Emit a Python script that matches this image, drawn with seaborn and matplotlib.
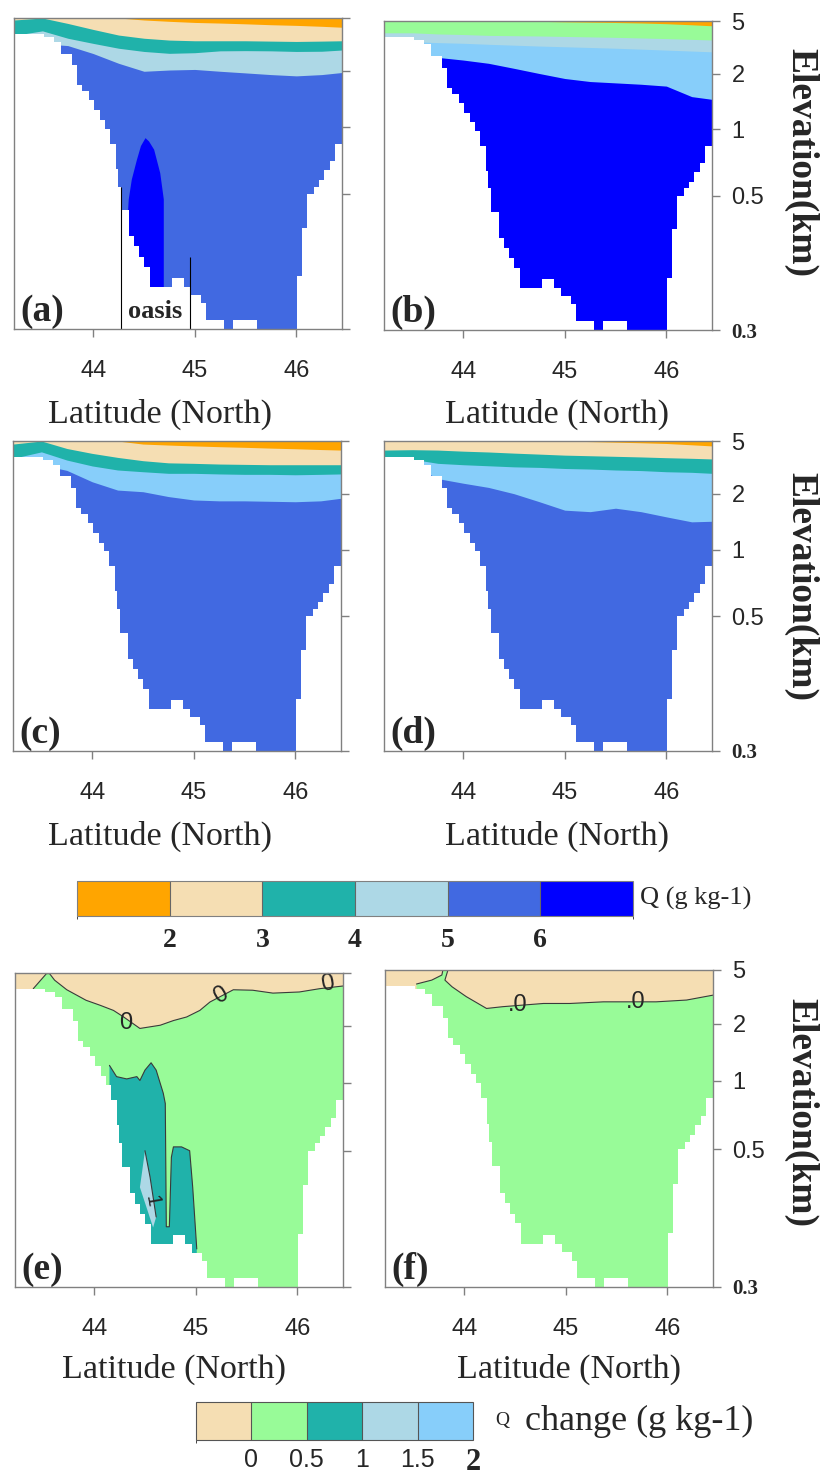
import numpy as np
import matplotlib
matplotlib.use("Agg")
import matplotlib.pyplot as plt
import seaborn as sns
from matplotlib.colors import ListedColormap, BoundaryNorm
from matplotlib.cm import ScalarMappable
from matplotlib.ticker import NullLocator

sns.set_style("white")
plt.rcParams['font.family'] = ['Liberation Sans', 'DejaVu Sans']
SERIF = ['Liberation Serif', 'DejaVu Serif']

# ---- data (latitude in deg N, elevation in km) ----
lat_nodes = [43.22, 43.5, 43.75, 44.0, 44.25, 44.5, 44.75, 45.0, 45.25, 45.5, 45.75, 46.0, 46.25, 46.45]
top_km = [5.0] * 14

a_orange = [5.0, 5.0, 5.0, 5.0, 5.0, 4.83, 4.72, 4.63, 4.58, 4.52, 4.45, 4.40, 4.33, 4.26]
a_wheat = [4.83, 5.0, 4.55, 4.10, 3.72, 3.52, 3.41, 3.37, 3.37, 3.37, 3.35, 3.33, 3.35, 3.37]
a_teal = [3.70, 4.0, 3.52, 3.22, 2.96, 2.80, 2.71, 2.74, 2.83, 2.84, 2.83, 2.80, 2.81, 2.87]
a_light = [3.2, 3.2, 3.1, 2.7, 2.28, 1.99, 2.03, 2.05, 1.99, 1.95, 1.91, 1.88, 1.91, 1.96]
oasis_lat = [44.33, 44.35, 44.38, 44.43, 44.47, 44.515, 44.55, 44.60, 44.66, 44.695, 44.695, 44.33]
oasis_km = [0.43, 0.49, 0.58, 0.71, 0.82, 0.89, 0.86, 0.79, 0.62, 0.49, 0.3, 0.3]
oasis_edge_lat = [44.272, 44.951]
oasis_edge_top = [0.54, 0.394]

b_orange = [5.0, 5.0, 5.0, 5.0, 5.0, 5.0, 4.97, 4.93, 4.90, 4.87, 4.83, 4.77, 4.68, 4.60]
b_green = [4.07, 4.07, 3.99, 3.95, 3.89, 3.87, 3.85, 3.82, 3.79, 3.76, 3.72, 3.68, 3.63, 3.59]
b_light = [3.48, 3.48, 3.43, 3.39, 3.33, 3.28, 3.23, 3.19, 3.15, 3.11, 3.06, 3.01, 2.96, 2.92]
b_sky = [2.7, 2.7, 2.65, 2.53, 2.39, 2.19, 2.0, 1.88, 1.81, 1.78, 1.75, 1.71, 1.50, 1.45]

c_orange = [5.0, 5.0, 5.0, 5.0, 5.0, 4.74, 4.66, 4.59, 4.53, 4.48, 4.42, 4.37, 4.31, 4.27]
c_wheat = [4.74, 5.0, 4.39, 4.03, 3.76, 3.55, 3.42, 3.39, 3.35, 3.33, 3.31, 3.31, 3.31, 3.31]
c_teal = [3.70, 4.14, 3.59, 3.24, 3.02, 2.93, 2.85, 2.85, 2.82, 2.80, 2.80, 2.78, 2.80, 2.82]
c_sky = [3.3, 3.3, 3.0, 2.46, 2.13, 2.07, 1.93, 1.85, 1.83, 1.83, 1.82, 1.81, 1.83, 1.89]

d_orange = [5.0, 5.0, 5.0, 5.0, 5.0, 5.0, 5.0, 5.0, 4.95, 4.90, 4.85, 4.79, 4.68, 4.59]
d_wheat = [4.27, 4.30, 4.27, 4.19, 4.13, 4.05, 3.98, 3.91, 3.87, 3.83, 3.79, 3.74, 3.70, 3.66]
d_teal = [3.75, 3.64, 3.39, 3.31, 3.25, 3.19, 3.16, 3.10, 3.07, 3.02, 2.99, 2.93, 2.90, 2.85]
d_sky = [3.3, 3.3, 2.6, 2.40, 2.23, 2.0, 1.81, 1.63, 1.60, 1.67, 1.60, 1.50, 1.41, 1.42]

e_zero_lat = [43.40, 43.53, 43.56, 43.61, 43.73, 43.92, 44.06, 44.19, 44.29, 44.45, 44.65,
              44.78, 44.91, 45.04, 45.14, 45.37, 45.56, 45.76, 46.02, 46.22, 46.45]
e_zero_km = [3.82, 4.95, 4.95, 4.42, 3.75, 3.13, 2.87, 2.63, 2.35, 1.95, 2.04,
             2.21, 2.35, 2.63, 3.04, 3.75, 3.72, 3.54, 3.61, 3.82, 4.0]
e_teal_lat = [44.15, 44.22, 44.32, 44.42, 44.45, 44.50, 44.56, 44.61, 44.68, 44.70, 44.71,
              44.74, 44.76, 44.78, 44.86, 44.94, 44.97, 45.01, 45.01, 44.15]
e_teal_km = [1.24, 1.08, 1.05, 1.08, 1.03, 1.17, 1.28, 1.17, 0.90, 0.81, 0.376,
             0.376, 0.488, 0.52, 0.52, 0.50, 0.436, 0.346, 0.3, 0.3]
e_sliver_lat = [44.50, 44.55, 44.61, 44.58, 44.45, 44.47]
e_sliver_km = [0.50, 0.453, 0.39, 0.375, 0.436, 0.46]

f_zero_lat = [43.53, 43.68, 43.78, 43.79, 43.84, 43.81, 43.88, 44.02, 44.22, 44.38,
              44.78, 45.04, 45.37, 45.89, 46.19, 46.45]
f_zero_km = [3.94, 4.21, 4.59, 5.0, 5.0, 4.21, 3.76, 3.18, 2.60, 2.68,
             2.83, 2.83, 2.91, 2.91, 3.0, 3.26]

terrain_edges = [43.22, 43.52, 43.61, 43.68, 43.79, 43.84, 43.89, 43.96, 44.01, 44.07, 44.12,
                 44.17, 44.22, 44.24, 44.27, 44.35, 44.40, 44.45, 44.50, 44.56, 44.61, 44.78,
                 44.89, 44.96, 45.06, 45.11, 45.29, 45.38, 45.61, 46.01, 46.06, 46.11, 46.17,
                 46.22, 46.27, 46.33, 46.38, 46.45]
terrain_top = [3.78, 3.62, 3.32, 2.70, 2.21, 1.68, 1.55, 1.39, 1.23, 1.09, 0.98, 0.84, 0.65,
               0.54, 0.47, 0.426, 0.41, 0.394, 0.38, 0.352, 0.352, 0.364, 0.352, 0.341, 0.331,
               0.31, 0.30, 0.31, 0.30, 0.366, 0.44, 0.50, 0.54, 0.58, 0.64, 0.70, 0.84]

lat_ticks = [44, 45, 46]
elev_ticks = [0.3, 0.5, 1, 2, 5]
elev_labels = ['0.3', '0.5', '1', '2', '5']
q_bounds = [1, 2, 3, 4, 5, 6, 7]
q_ticks = [2, 3, 4, 5, 6]
dq_bounds = [-0.5, 0, 0.5, 1, 1.5, 2]
dq_ticks = [0, 0.5, 1, 1.5, 2]
dq_labels = ['0', '0.5', '1', '1.5', '2']

ORANGE, WHEAT, TEAL = '#FFA500', '#F5DEB3', '#20B2AA'
LBLUE, SKY, ROYAL, BLUE, GREEN = '#ADD8E6', '#87CEFA', '#4169E1', '#0000FF', '#98FB98'
q_colors = [ORANGE, WHEAT, TEAL, LBLUE, ROYAL, BLUE]
dq_colors = [WHEAT, GREEN, TEAL, LBLUE, SKY]

# ---- vertical axis spacing (model levels, not uniform in km) ----
LOG_T = np.log(elev_ticks)
POS_T = np.array([0.0, 0.434, 0.650, 0.830, 1.0])
LO = (POS_T[1] - POS_T[0]) / (LOG_T[1] - LOG_T[0])
HI = (POS_T[-1] - POS_T[-2]) / (LOG_T[-1] - LOG_T[-2])


def to_pos(km):
    z = np.log(np.clip(np.asarray(km, dtype=float), 1e-6, None))
    p = np.interp(z, LOG_T, POS_T)
    p = np.where(z < LOG_T[0], POS_T[0] + (z - LOG_T[0]) * LO, p)
    p = np.where(z > LOG_T[-1], POS_T[-1] + (z - LOG_T[-1]) * HI, p)
    return p


def from_pos(p):
    p = np.asarray(p, dtype=float)
    z = np.interp(p, POS_T, LOG_T)
    z = np.where(p < POS_T[0], LOG_T[0] + (p - POS_T[0]) / LO, z)
    z = np.where(p > POS_T[-1], LOG_T[-1] + (p - POS_T[-1]) / HI, z)
    return np.exp(z)


W, H = 824, 1477
fig = plt.figure(figsize=(W / 100, H / 100), dpi=100)


def px_rect(x0, y0, x1, y1):
    return [x0 / W, 1 - y1 / H, (x1 - x0) / W, (y1 - y0) / H]


def ftext(x, y, s, **kw):
    fig.text(x / W, 1 - y / H, s, **kw)


def make_panel(box, letter, right_labels):
    ax = fig.add_axes(px_rect(*box))
    ax.set_yscale('function', functions=(to_pos, from_pos))
    ax.set_xlim(terrain_edges[0], terrain_edges[-1])
    ax.set_ylim(0.3, 5.0)
    ax.set_xticks(lat_ticks, labels=[str(t) for t in lat_ticks])
    ax.set_yticks(elev_ticks, labels=elev_labels if right_labels else [''] * 5)
    ax.yaxis.set_minor_locator(NullLocator())
    ax.xaxis.set_minor_locator(NullLocator())
    ax.tick_params(axis='x', bottom=True, top=False, direction='out', length=6, width=1,
                   color='gray', labelsize=17, pad=16)
    ax.tick_params(axis='y', left=False, right=True, labelleft=False, labelright=right_labels,
                   direction='out', length=6, width=1, color='gray', labelsize=17, pad=8)
    if right_labels:
        lb = ax.get_yticklabels()[0]
        lb.set_fontfamily(SERIF)
        lb.set_fontweight('bold')
        lb.set_fontsize(15)
    for sp in ax.spines.values():
        sp.set_color('gray')
        sp.set_linewidth(1)
        sp.set_zorder(6)
    ax.text(0.02, 0.025, f'({letter})', transform=ax.transAxes, fontsize=27,
            fontweight='bold', family=SERIF, zorder=7)
    return ax


def draw_layers(ax, tops, colors):
    for col, top in zip(colors, tops):
        ax.fill_between(lat_nodes, 0.3, top, color=col, lw=0, zorder=1)


def draw_terrain(ax):
    ax.fill_between(terrain_edges, 0.25, terrain_top + [terrain_top[-1]], step='post',
                    color='white', lw=0, zorder=3)


def contour_line(ax, x, y):
    sns.lineplot(x=x, y=y, sort=False, estimator=None, color='#3a3a3a', lw=0.8,
                 ax=ax, zorder=2)


boxes = {'a': (14, 18, 342, 329), 'b': (384, 21, 712, 330),
         'c': (13, 441, 341, 751), 'd': (384, 441, 712, 751),
         'e': (15, 973, 343, 1287), 'f': (385, 970, 713, 1287)}

# (a)
ax = make_panel(boxes['a'], 'a', False)
draw_layers(ax, [top_km, a_orange, a_wheat, a_teal, a_light], [ORANGE, WHEAT, TEAL, LBLUE, ROYAL])
ax.fill(oasis_lat, oasis_km, color=BLUE, lw=0, zorder=1.5)
draw_terrain(ax)
ax.vlines(oasis_edge_lat, 0.3, oasis_edge_top, color='black', lw=0.8, zorder=4)
ax.text(44.61, 0.313, 'oasis', ha='center', va='baseline', fontsize=19, fontweight='bold',
        family=SERIF, zorder=5)

# (b)
ax = make_panel(boxes['b'], 'b', True)
draw_layers(ax, [top_km, b_orange, b_green, b_light, b_sky], [ORANGE, GREEN, LBLUE, SKY, BLUE])
draw_terrain(ax)

# (c)
ax = make_panel(boxes['c'], 'c', False)
draw_layers(ax, [top_km, c_orange, c_wheat, c_teal, c_sky], [ORANGE, WHEAT, TEAL, SKY, ROYAL])
draw_terrain(ax)

# (d)
ax = make_panel(boxes['d'], 'd', True)
draw_layers(ax, [top_km, d_orange, d_wheat, d_teal, d_sky], [ORANGE, WHEAT, TEAL, SKY, ROYAL])
draw_terrain(ax)

# (e)
ax = make_panel(boxes['e'], 'e', False)
draw_layers(ax, [top_km], [GREEN])
ax.fill([43.22, 43.40] + e_zero_lat + [46.45, 43.22], [3.0, 3.0] + e_zero_km + [5.0, 5.0],
        color=WHEAT, lw=0, zorder=1.2)
ax.fill(e_teal_lat, e_teal_km, color=TEAL, lw=0, zorder=1.5)
ax.fill(e_sliver_lat, e_sliver_km, color=LBLUE, lw=0, zorder=1.6)
contour_line(ax, e_zero_lat, e_zero_km)
contour_line(ax, e_teal_lat[:-2], e_teal_km[:-2])
contour_line(ax, e_sliver_lat[:3], e_sliver_km[:3])
draw_terrain(ax)
for x, y, r in [(44.31, 2.12, 0), (45.25, 3.40, 30), (46.30, 4.16, 10)]:
    ax.text(x, y, '0', ha='center', va='center', fontsize=17, rotation=r, zorder=5)
ax.text(44.57, 0.415, '1', ha='center', va='center', fontsize=15, rotation=-80, zorder=5)

# (f)
ax = make_panel(boxes['f'], 'f', True)
draw_layers(ax, [top_km], [GREEN])
ax.fill([43.22, 43.53] + f_zero_lat + [46.45, 43.22], [3.0, 3.0] + f_zero_km + [5.0, 5.0],
        color=WHEAT, lw=0, zorder=1.2)
contour_line(ax, f_zero_lat, f_zero_km)
draw_terrain(ax)
for x, y in [(44.53, 2.75), (45.69, 2.91)]:
    ax.text(x, y, '.0', ha='center', va='center', fontsize=17, zorder=5)

# axis titles
for x, y in [(160, 414), (557, 414), (160, 836), (557, 836), (174, 1369), (569, 1369)]:
    ftext(x, y, 'Latitude (North)', ha='center', va='center', fontsize=24.5, family=SERIF)
for y in [162, 587, 1112]:
    ftext(801, y, 'Elevation(km)', ha='center', va='center', rotation=-90, fontsize=27,
          fontweight='bold', family=SERIF)

# colorbar for Q
cax = fig.add_axes(px_rect(77, 881, 633, 916))
cb = fig.colorbar(ScalarMappable(BoundaryNorm(q_bounds, len(q_colors)), ListedColormap(q_colors)),
                  cax=cax, orientation='horizontal', ticks=q_ticks, drawedges=True)
cb.outline.set_edgecolor('gray')
cb.dividers.set_color('#666666')
cb.dividers.set_linewidth(0.8)
cax.set_xticks(q_ticks, labels=[str(t) for t in q_ticks])
cax.tick_params(length=0, pad=9)
for lb in cax.get_xticklabels():
    lb.set_fontfamily(SERIF)
    lb.set_fontweight('bold')
    lb.set_fontsize(20)
ftext(640, 898, 'Q (g kg-1)', ha='left', va='center', fontsize=19, family=SERIF)

# colorbar for Q change
cax2 = fig.add_axes(px_rect(196, 1402, 473, 1440))
cb2 = fig.colorbar(ScalarMappable(BoundaryNorm(dq_bounds, len(dq_colors)), ListedColormap(dq_colors)),
                   cax=cax2, orientation='horizontal', ticks=dq_ticks, drawedges=True)
cb2.outline.set_edgecolor('#555555')
cb2.dividers.set_color('#555555')
cb2.dividers.set_linewidth(0.8)
cax2.set_xticks(dq_ticks, labels=dq_labels)
cax2.tick_params(length=0, pad=6, labelsize=18)
last = cax2.get_xticklabels()[-1]
last.set_fontfamily(SERIF)
last.set_fontweight('bold')
last.set_fontsize(22)
ftext(495, 1421, 'Q', ha='left', va='center', fontsize=14, family=SERIF)
ftext(525, 1421, 'change (g kg-1)', ha='left', va='center', fontsize=26, family=SERIF)

fig.savefig('out.png', dpi=100)
